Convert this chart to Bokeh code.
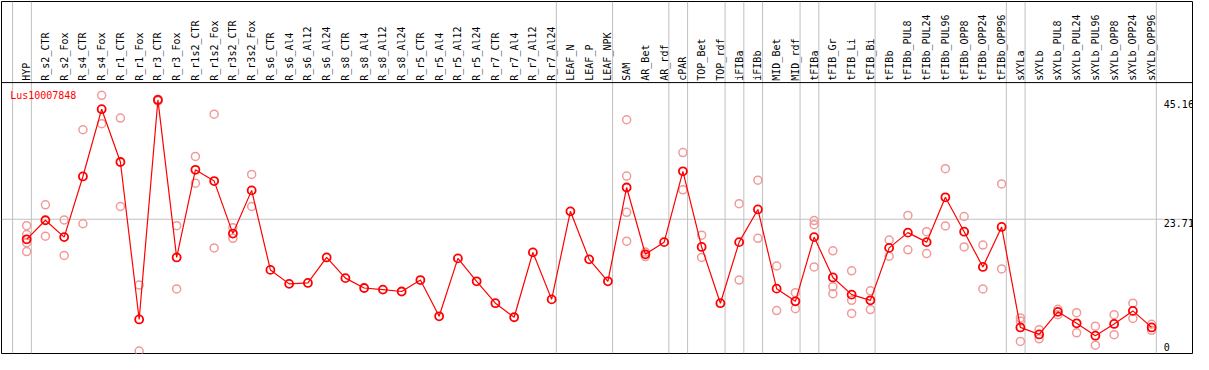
import numpy as np
from bokeh.plotting import figure
from bokeh.models import ColumnDataSource, Span, Range1d, Label
from bokeh.core.properties import value
from bokeh.embed import file_html
from bokeh.resources import INLINE

gene_id = "Lus10007848"

categories = [
    "HYP", "R_s2_CTR", "R_s2_Fox", "R_s4_CTR", "R_s4_Fox", "R_r1_CTR", "R_r1_Fox",
    "R_r3_CTR", "R_r3_Fox", "R_r1s2_CTR", "R_r1s2_Fox", "R_r3s2_CTR", "R_r3s2_Fox",
    "R_s6_CTR", "R_s6_Al4", "R_s6_Al12", "R_s6_Al24", "R_s8_CTR", "R_s8_Al4",
    "R_s8_Al12", "R_s8_Al24", "R_r5_CTR", "R_r5_Al4", "R_r5_Al12", "R_r5_Al24",
    "R_r7_CTR", "R_r7_Al4", "R_r7_Al12", "R_r7_Al24", "LEAF_N", "LEAF_P", "LEAF_NPK",
    "SAM", "AR_Bet", "AR_rdf", "cPAR", "TOP_Bet", "TOP_rdf", "iFIBa", "iFIBb",
    "MID_Bet", "MID_rdf", "tFIBa", "tFIB_Gr", "tFIB_Li", "tFIB_Bi", "tFIBb",
    "tFIBb_PUL8", "tFIBb_PUL24", "tFIBb_PUL96", "tFIBb_OPP8", "tFIBb_OPP24",
    "tFIBb_OPP96", "sXYLa", "sXYLb", "sXYLb_PUL8", "sXYLb_PUL24", "sXYLb_PUL96",
    "sXYLb_OPP8", "sXYLb_OPP24", "sXYLb_OPP96",
]

mean_values = [
    20.10, 23.53, 20.50, 31.40, 43.50, 34.00, 5.69,
    45.16, 16.84, 32.60, 30.57, 21.13, 28.90,
    14.60, 12.09, 12.26, 16.84, 13.12, 11.35,
    11.06, 10.72, 12.78, 6.26, 16.67, 12.55,
    8.61, 6.09, 17.75, 9.30, 25.13, 16.50, 12.55,
    29.42, 17.41, 19.59, 32.33, 18.73, 8.61, 19.59, 25.47,
    11.23, 8.95, 20.50, 13.24, 10.15, 9.13, 18.56,
    21.30, 19.59, 27.65, 21.47, 15.13,
    22.33, 4.26, 3.00, 7.06, 5.00, 2.77,
    4.89, 7.23, 4.26,
]

replicates = [
    [22.56, 20.96, 19.50, 17.90], [26.30, 20.67], [23.58, 17.20], [39.80, 22.90],
    [46.00, 40.90], [41.90, 26.00], [11.87, 0.0],
    [45.30, 45.00], [22.56, 11.18], [35.00, 30.20], [42.60, 18.56], [22.20, 20.27],
    [31.76, 26.00],
    [], [], [], [], [], [], [], [], [], [], [], [], [], [], [], [],
    [], [], [],
    [41.60, 31.48, 24.96, 19.76], [17.80, 17.00], [], [35.70, 29.00], [20.84, 16.84],
    [], [26.50, 12.78], [30.74, 20.27],
    [15.30, 7.29], [10.50, 7.63], [23.47, 22.73, 15.13], [18.04, 11.58, 10.33],
    [14.44, 9.13, 6.78], [10.84, 7.46], [19.98, 17.07],
    [24.39, 18.22], [21.47, 17.53], [32.80, 22.50], [24.20, 18.73], [19.07, 11.18],
    [30.05, 14.78], [5.97, 5.40, 1.75], [3.86, 2.20], [7.51, 6.55], [6.90, 3.29],
    [4.49, 1.06], [6.55, 2.95], [8.61, 5.87], [4.83, 3.74],
]

# sample groups (separated by grey vertical lines)
group_sizes = [1, 28, 3, 3, 1, 2, 1, 1, 2, 1, 3, 7, 1, 7]

y_ticks = [45.16, 23.71, 0]

# ---------------------------------------------------------------------------
n = len(categories)
idx = list(range(n))

FONT = "DejaVu Sans Mono"
RED = "#ff0000"
PINK = "#f09a9a"
GREY = "#c0c0c0"
header_y = 48.28

p = figure(width=1193, height=354, output_backend="svg", toolbar_location=None,
           x_range=Range1d(-1.342, 62.18), y_range=Range1d(-0.43, 62.86),
           x_axis_location=None, y_axis_location=None,
           min_border=1, background_fill_color="white", border_fill_color="white")
p.grid.grid_line_color = None
p.outline_line_color = "black"
p.outline_line_width = 1
p.outline_line_alpha = 1.0

# grey group separators
bounds = [-1] + list(np.cumsum(group_sizes) - 1)
for b in bounds:
    p.add_layout(Span(location=b + 0.25, dimension="height", line_color=GREY,
                      line_width=1, level="underlay"))

# horizontal reference line at the middle tick
p.add_layout(Span(location=y_ticks[1], dimension="width", line_color=GREY,
                  line_width=1, level="underlay"))
# header separator
p.add_layout(Span(location=header_y, dimension="width", line_color="black",
                  line_width=1, level="underlay"))

# category labels (vertical) in the header band
lab_src = ColumnDataSource(dict(x=idx, y=[header_y + 0.34] * n, text=categories))
p.text(x="x", y="y", text="text", source=lab_src, angle=np.pi / 2,
       text_align="left", text_baseline="middle", text_font=value(FONT),
       text_font_size="10px", text_color="black")

# replicate points
rx, ry = [], []
for i, reps in enumerate(replicates):
    for r in reps:
        rx.append(i)
        ry.append(r)
p.scatter(rx, ry, marker="circle", size=8, fill_color=None,
          line_color=PINK, line_width=1.5)

# mean profile
p.line(idx, mean_values, line_color=RED, line_width=1.2)
p.scatter(idx, mean_values, marker="circle", size=8, fill_color=None,
          line_color=RED, line_width=1.8)

# value labels at right
ymin = min(y_ticks)
tick_src = ColumnDataSource(dict(
    x=[n - 1 + 0.65] * len(y_ticks), y=y_ticks,
    text=[f"{t:g}" for t in y_ticks],
    base=["bottom" if t == ymin else "top" for t in y_ticks]))
p.text(x="x", y="y", text="text", source=tick_src, text_align="left",
       text_baseline="base", text_font=value(FONT), text_font_size="10px",
       text_color="black")

p.add_layout(Label(x=-0.88, y=46.96, text=gene_id, text_baseline="top",
                   text_align="left", text_color=RED, text_font=FONT,
                   text_font_size="10px"))

open("out.html", "w").write(file_html(p, INLINE))
